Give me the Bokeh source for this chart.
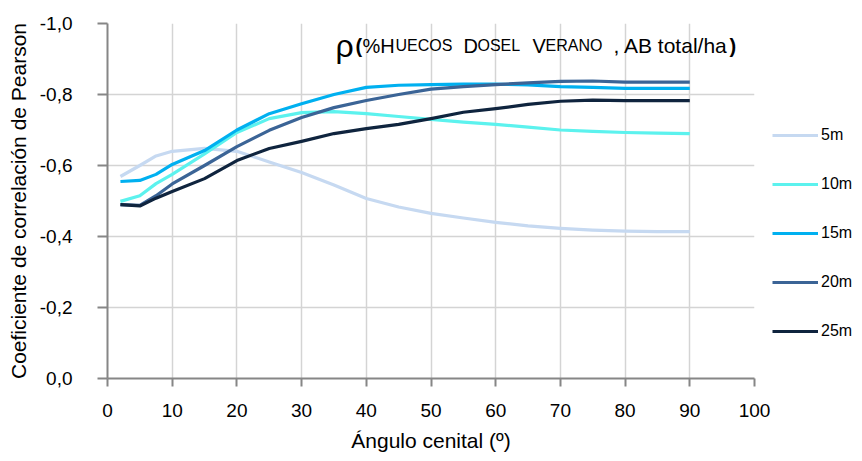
from bokeh.plotting import figure
from bokeh.models import (Range1d, FixedTicker, CustomJSTickFormatter, Legend,
                          LegendItem, Label)
from bokeh.embed import file_html
from bokeh.resources import INLINE

# ---- data ----
angles = [2, 5, 7.5, 10, 15, 20, 25, 30, 35, 40, 45, 50, 55, 60, 65, 70, 75, 80, 85, 90]
r_5m = [-0.569, -0.600, -0.627, -0.640, -0.648, -0.640, -0.610, -0.580, -0.545, -0.507,
        -0.483, -0.465, -0.452, -0.440, -0.430, -0.423, -0.418, -0.415, -0.414, -0.414]
r_10m = [-0.499, -0.515, -0.549, -0.575, -0.633, -0.693, -0.732, -0.749, -0.752, -0.746,
         -0.738, -0.730, -0.722, -0.716, -0.708, -0.700, -0.696, -0.693, -0.691, -0.690]
r_15m = [-0.555, -0.558, -0.575, -0.603, -0.642, -0.700, -0.746, -0.774, -0.800, -0.820,
         -0.826, -0.828, -0.829, -0.829, -0.827, -0.822, -0.820, -0.817, -0.817, -0.817]
r_20m = [-0.490, -0.488, -0.515, -0.548, -0.600, -0.653, -0.699, -0.735, -0.763, -0.783,
         -0.800, -0.815, -0.822, -0.828, -0.833, -0.837, -0.838, -0.835, -0.835, -0.835]
r_25m = [-0.490, -0.486, -0.508, -0.527, -0.563, -0.614, -0.648, -0.668, -0.690, -0.704,
         -0.716, -0.732, -0.750, -0.760, -0.772, -0.781, -0.784, -0.783, -0.783, -0.783]
series_names = ["5m", "10m", "15m", "20m", "25m"]
series_values = [r_5m, r_10m, r_15m, r_20m, r_25m]
series_colors = ["#C6D9F1", "#5CF2EE", "#00B0F0", "#3B6496", "#0F243E"]
x_ticks = [0, 10, 20, 30, 40, 50, 60, 70, 80, 90, 100]
y_ticks = [0, -0.2, -0.4, -0.6, -0.8, -1.0]
x_title = "Ángulo cenital (º)"
y_title = "Coeficiente de correlación de Pearson"

FONT = "Liberation Sans"

p = figure(frame_width=647, frame_height=355, output_backend="svg", toolbar_location=None,
           x_range=Range1d(x_ticks[0], x_ticks[-1]), y_range=Range1d(0, -1.0),
           min_border_left=107, min_border_top=23, min_border_right=100,
           min_border_bottom=75)
p.outline_line_color = None
p.background_fill_color = "white"

for g in (p.xgrid, p.ygrid):
    g.grid_line_color = "#D4D4D4"
    g.grid_line_width = 1.5
p.xgrid.ticker = FixedTicker(ticks=x_ticks)
p.ygrid.ticker = FixedTicker(ticks=y_ticks)

renderers = []
for name, vals, col in zip(series_names, series_values, series_colors):
    r = p.line(angles, vals, line_color=col, line_width=3.2, line_join="round")
    renderers.append((name, r))

# axes
xa = p.xaxis[0]
xa.ticker = FixedTicker(ticks=x_ticks)
xa.axis_label = x_title
xa.major_tick_out = 8
xa.major_tick_in = 0
xa.minor_tick_out = 0
xa.major_label_standoff = 17
xa.axis_label_standoff = 9

ya = p.yaxis[0]
ya.ticker = FixedTicker(ticks=y_ticks)
ya.formatter = CustomJSTickFormatter(code="return tick.toFixed(1).replace('.', ',');")
ya.axis_label = y_title
ya.major_tick_out = 10
ya.major_tick_in = 0
ya.minor_tick_out = 0
ya.major_label_standoff = 25
ya.axis_label_standoff = 7

for ax in (xa, ya):
    ax.axis_line_color = "#868686"
    ax.axis_line_width = 2
    ax.major_tick_line_color = "#868686"
    ax.major_tick_line_width = 2
    ax.major_label_text_font = FONT
    ax.major_label_text_font_size = "19px"
    ax.major_label_text_color = "#000000"
    ax.axis_label_text_font = FONT
    ax.axis_label_text_font_size = "21px"
    ax.axis_label_text_font_style = "normal"
    ax.axis_label_text_color = "#000000"

# legend in the right-hand panel
legend = Legend(items=[LegendItem(label=n, renderers=[r]) for n, r in renderers],
                location=(18, 37), orientation="vertical",
                glyph_width=46, glyph_height=20, label_height=20, spacing=29,
                label_standoff=3, padding=0, margin=0, border_line_color=None,
                background_fill_alpha=0, label_text_font=FONT,
                label_text_font_size="16px", label_text_color="#000000")
p.add_layout(legend, "right")

# title (small caps composed of pieces)
base_y = 333
pieces = [
    ("ρ", 228, "32px", "normal"),
    ("(", 248, "20px", "bold"),
    ("%H", 255, "20px", "normal"),
    ("UECOS", 288, "16px", "normal"),
    ("D", 356, "20px", "normal"),
    ("OSEL", 370, "16px", "normal"),
    ("V", 425, "20px", "normal"),
    ("ERANO", 438, "16px", "normal"),
    (", AB total/ha", 506, "21px", "normal"),
    (")", 622, "20px", "bold"),
]
for txt, xs, fs, st in pieces:
    p.add_layout(Label(x=xs, y=base_y, x_units="screen", y_units="screen", text=txt,
                       text_font=FONT, text_font_size=fs, text_font_style=st,
                       text_color="#000000", text_baseline="alphabetic"))

open("out.html", "w").write(file_html(p, INLINE))
